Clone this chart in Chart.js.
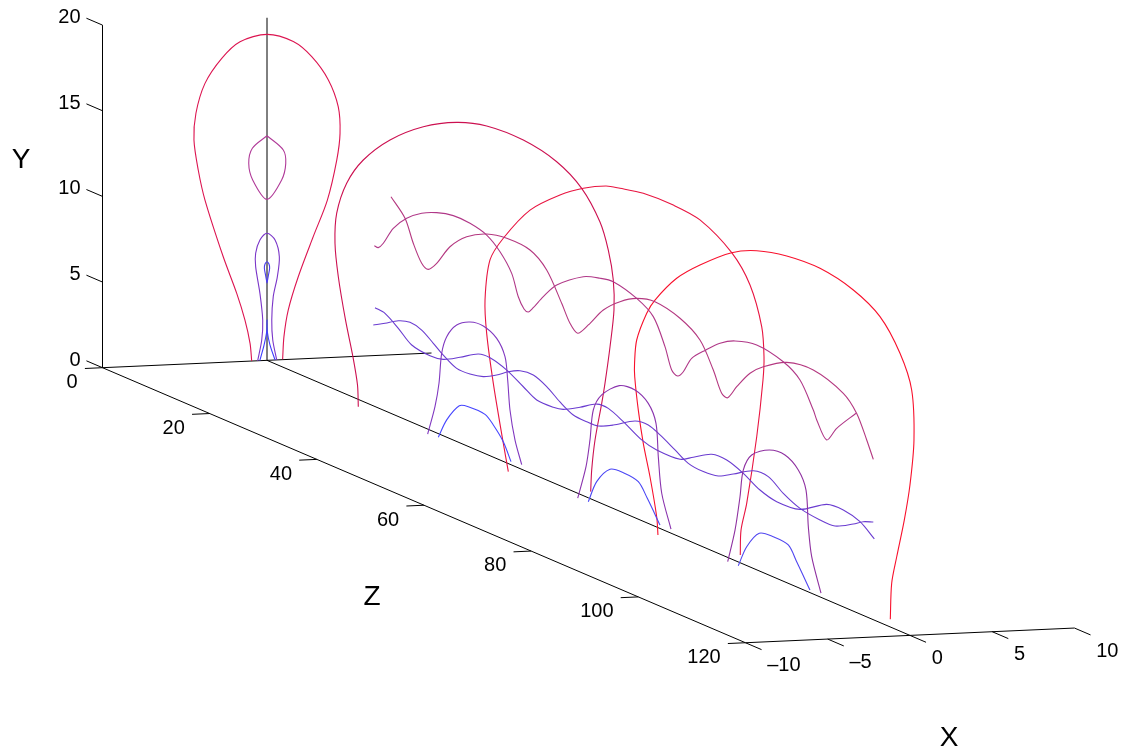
<!DOCTYPE html>
<html>
<head>
<meta charset="utf-8">
<style>
  html, body { margin: 0; padding: 0; background: #fff; }
  canvas { display: block; }
</style>
<script src="https://cdn.jsdelivr.net/npm/chart.js@4"></script>
</head>
<body>
<canvas id="fieldChart" width="1123" height="753"></canvas>
<script>
// axis ticks
const xTicks = [-10, -5, 0, 5, 10]
const yTicks = [0, 5, 10, 15, 20]
const zTicks = [0, 20, 40, 60, 80, 100, 120]

// contours in the Z = 0 plane, [X, Y]
const frontOuter = [[-0.93,0],[-1.03,1.04],[-1.34,2.41],[-1.84,3.99],[-2.66,6.16],[-3.77,9.52],[-4.18,11.29],[-4.44,13.05],[-4.32,14.61],[-3.77,16.33],[-2.75,17.75],[-1.64,18.67],[0,19.03],[1.6,18.54],[2.72,17.61],[3.73,16.21],[4.33,14.62],[4.44,13.06],[4.24,11.51],[3.67,9.2],[2.81,7.1],[1.9,4.8],[1.29,2.88],[1.03,1.34],[0.95,0.02]]
const frontLoop = [[0,13.11],[0.99,12.24],[1.14,11.45],[0.89,10.49],[0,9.4],[-0.87,10.57],[-1.11,11.55],[-0.89,12.42],[0,13.11]]
const frontInner = [[-0.57,0],[-0.32,1.2],[-0.26,2.37],[-0.43,3.93],[-0.69,5.5],[-0.69,6.28],[-0.43,7.04],[0,7.42],[0.49,7.01],[0.75,6.02],[0.63,4.86],[0.38,3.7],[0.29,2.34],[0.35,1.17],[0.59,0]]
const frontFork = [[-0.44,0],[-0.18,0.9],[-0.02,1.67],[0,2.36],[0.02,1.67],[0.18,0.9],[0.49,0]]
const frontTip = [[0,4.5],[-0.09,4.99],[-0.16,5.38],[-0.12,5.63],[0,5.76],[0.12,5.62],[0.16,5.37],[0.09,4.98],[0,4.5]]

// contours along the X = 0 plane, [Z, Y]
const arcA = [[17.04,-0.43],[16.89,0.82],[16.05,2.34],[14.65,4.32],[13.31,6.66],[12.69,8.53],[13.01,10.33],[14.87,12.33],[17.97,14.1],[22.96,15.94],[29.17,17.54],[35.4,18.63],[41,19.17],[47.84,19.26],[54.07,18.83],[58.73,17.9],[62.15,16.39],[63.7,14.96],[64.63,13.34],[64.76,11.6],[64.02,9.36],[63.08,7.1],[62.47,5.85],[61.22,3.54],[60.6,1.71],[60.41,0.42]]
const arcB = [[45.04,-0.47],[44.1,1.06],[42.24,4.31],[41,7.06],[40.69,8.97],[41.62,11.43],[44.1,13.03],[49.09,15.34],[54.68,16.97],[59.03,17.94],[63.27,18.64],[65.88,18.86],[70.23,19.15],[75.83,19.21],[80.81,19.01],[86.73,17.89],[90.15,16.46],[92.33,14.32],[92.76,12.62],[92.57,11.24],[91.4,7.77],[89.53,3.63],[88.47,1.93],[88.33,0.46]]
const arcC = [[72.97,-0.43],[72.73,0.6],[71.48,2.77],[70.23,4.55],[69.3,6.37],[68.63,8.23],[68.6,9.02],[69,10.42],[70.87,12.23],[72.41,13.21],[76.46,15.02],[80.81,16.38],[86.73,17.89],[91.4,18.63],[97,19.07],[103.21,19.18],[109.43,18.75],[114.41,17.86],[118.14,16.22],[120.32,14.37],[120.75,11.51],[120,8.78],[118.94,6.59],[117.53,4.26],[116.59,2.59],[116.33,0.45]]

const archA = [[29.99,-0.29],[31.35,1.49],[32.1,2.96],[32.6,4.77],[33.54,5.87],[35.4,6.8],[37.89,7.31],[40.37,7.41],[42.87,7.02],[44.42,6.16],[44.92,4.86],[45.35,3.17],[46.29,1.54],[47.54,0.27]]
const archB = [[57.99,-0.29],[59.54,1.76],[60.28,3.42],[60.9,5.25],[62.47,6.34],[65.75,7.32],[68.68,7.46],[71.16,7.01],[72.6,6.04],[73.03,4.15],[73.67,2.1],[75.4,0.23]]
const archC = [[85.98,-0.25],[87.35,1.78],[88.28,3.85],[88.89,5.49],[90.46,6.58],[93.75,7.31],[96.68,7.41],[99.16,6.87],[100.6,5.89],[101.03,3.81],[101.66,2.14],[103.4,0.24]]

const lowA = [[31.97,-0.21],[33.54,1.01],[35.89,2.15],[37.57,2.32],[40.69,2.29],[42.24,1.88],[44.1,1.15],[45.54,0.18]]
const lowB = [[59.97,-0.23],[61.53,1.15],[64.02,2.21],[66.5,2.34],[69.3,2.19],[70.98,1.44],[73.35,0.2]]
const lowC = [[87.96,-0.22],[89.53,1.1],[91.88,2.2],[94.49,2.35],[97.29,2.24],[98.86,1.47],[101.34,0.15]]

const waveUpperA = [[20.03,9.37],[20.77,9.36],[21.71,9.74],[23.57,10.86],[26.07,11.78],[28.87,12.45],[31.67,12.86],[34.77,13.1],[37.89,13.07],[41,12.8],[43.49,12.16],[45.67,11.19],[46.9,9.99],[47.97,9.42],[48.77,9.35],[49.65,9.7],[51.57,10.62],[54.07,11.63],[59.03,12.78],[62.15,13.11],[64.63,13.24],[69,12.85],[72.1,12.2],[74.28,10.74],[75.53,9.54],[76.65,9.34],[77.7,9.73],[79.26,10.72],[81.93,11.57],[84.55,12.31],[87.35,12.82],[91.4,13.13],[96.36,12.81],[99.48,12.16],[101.96,10.74],[102.6,10.25],[104.46,9.33],[106.33,10.26],[109.93,11.62]]
const waveUpperB = [[23.14,12.65],[25.76,11.74],[27.3,10.49],[28.87,9.53],[30.1,9.34],[31.67,9.9],[34.15,11.2],[37.27,12.2],[41,12.86],[44.74,13.11],[49.09,13.01],[52.2,12.26],[55,10.69],[56.55,9.73],[57.99,9.34],[59.97,10.09],[62.77,11.34],[65.88,12.24],[69,12.85],[72.41,13.11],[77.08,12.77],[80.81,12],[83.3,10.58],[84.86,9.43],[85.98,9.32],[87.66,10.19],[90.15,11.31],[92.63,12.02],[97,12.86],[101.96,13.08],[107.56,12.47],[110.06,11.63],[111.93,10.33],[113.16,9.36]]
const waveLowerA = [[19.84,4.72],[22.02,5.11],[24.51,5.59],[26.69,5.79],[28.87,5.63],[31.04,5.15],[32.9,4.71],[35.4,4.27],[37.89,4.27],[40.37,4.45],[42.87,4.88],[45.04,5.36],[47.22,5.71],[49.7,5.79],[52.2,5.45],[54.68,4.89],[57.17,4.46],[59.67,4.4],[61.83,4.44],[64.63,4.87],[68.68,5.65],[71.16,5.75],[73.35,5.46],[76.15,4.96],[78.63,4.51],[81.43,4.4],[84.23,4.52],[87.03,5.01],[90.76,5.7],[93.56,5.73],[96.36,5.13],[99.48,4.67],[103.21,4.49],[106.01,4.51],[109.43,5.09],[111.29,5.47],[113.16,5.7]]
const waveLowerB = [[20.16,5.77],[22.02,5.69],[24.51,5.15],[27.01,4.51],[30.42,4.34],[32.9,4.46],[36.02,5],[39.44,5.65],[41.62,5.72],[44.74,5.42],[47.84,4.86],[50.34,4.42],[53.43,4.41],[55.3,4.54],[58.42,5.08],[61.53,5.68],[63.7,5.72],[66.5,5.32],[69.93,4.71],[72.73,4.5],[77.08,4.54],[79.56,4.99],[83,5.62],[85.8,5.66],[88.89,5.3],[92.01,4.74],[95.13,4.48],[99.48,4.61],[104.46,5.57],[107.56,5.66],[110.68,5.39],[113.35,4.74]]

// oblique view of the box, onto the page plane
function project(x, y, z) {
  return {
    x: 267 + 16.45 * x + 5.358 * z,
    y: 360.35 - 0.735 * x + 2.292 * z - 17.13 * y
  }
}

function curve(points, color) {
  return { data: points, borderColor: color, borderWidth: 1.1, tension: 0.3, pointRadius: 0, showLine: true }
}
function front(rows, color) {
  return curve(rows.map(r => project(r[0], r[1], 0)), color)
}
function side(rows, color) {
  return curve(rows.map(r => project(0, r[1], r[0])), color)
}
function axisLine(a, b) {
  return { data: [project(a[0], a[1], a[2]), project(b[0], b[1], b[2])], borderColor: '#000', borderWidth: 1, tension: 0, pointRadius: 0, showLine: true }
}

const axisLines = [
  axisLine([-10, 0, 0], [-10, 20, 0]),
  axisLine([-10, 0, 0], [10, 0, 0]),
  axisLine([-10, 0, 120], [10, 0, 120]),
  axisLine([-10, 0, 0], [-10, 0, 120]),
  axisLine([0, 0, 0], [0, 0, 120]),
  axisLine([0, 0, 0], [0, 20, 0])
]
yTicks.forEach(v => axisLines.push(axisLine([-10, v, 0], [-10, v, -3])))
xTicks.forEach(v => axisLines.push(axisLine([v, 0, 120], [v, 0, 123])))
zTicks.forEach(v => axisLines.push(axisLine([-10, 0, v], [-11.07, 0, v])))

const datasets = [
  front(frontFork, '#3c3cff'),
  front(frontTip, '#4a3cf0'),
  front(frontInner, '#7a35c8'),
  front(frontLoop, '#b03a98'),
  front(frontOuter, '#dc1450'),
  side(lowA, '#4646ff'),
  side(lowB, '#4a46f5'),
  side(lowC, '#5046f0'),
  side(archA, '#8038c0'),
  side(archB, '#8a34ae'),
  side(archC, '#8e30a0'),
  side(waveLowerA, '#6a3cd0'),
  side(waveLowerB, '#6a3cd0'),
  side(waveUpperA, '#b03888'),
  side(waveUpperB, '#b43880'),
  side(arcC, '#f8102c'),
  side(arcB, '#e81440'),
  side(arcA, '#cc1050')
].concat(axisLines)

const boxLabels = {
  id: 'boxLabels',
  afterDraw(chart) {
    const ctx = chart.ctx
    const sx = chart.scales.x, sy = chart.scales.y
    const put = (text, p, dx, dy, align, size) => {
      ctx.font = size + 'px "Liberation Sans", Arial, sans-serif'
      ctx.textAlign = align
      ctx.textBaseline = 'middle'
      ctx.fillStyle = '#000'
      ctx.fillText(text, sx.getPixelForValue(p.x) + dx, sy.getPixelForValue(p.y) + dy)
    }
    ctx.save()
    yTicks.forEach(v => put(String(v), project(-10, v, 0), -22, -7.5, 'right', 20))
    zTicks.forEach(v => put(String(v), project(-10, 0, v), -24.8, 14.8, 'right', 20))
    xTicks.forEach(v => put(String(v).replace('-', '\u2013'), project(v, 0, 120), 21.7, 23, 'left', 20))
    put('Y', { x: 21, y: 160 }, 0, 0, 'center', 28)
    put('Z', { x: 372, y: 597 }, 0, 0, 'center', 28)
    put('X', { x: 949, y: 738 }, 0, 0, 'center', 28)
    ctx.restore()
  }
}

new Chart(document.getElementById('fieldChart'), {
  type: 'scatter',
  data: { datasets: datasets },
  options: {
    responsive: false,
    animation: false,
    layout: { padding: 0 },
    plugins: { legend: { display: false }, tooltip: { enabled: false } },
    scales: {
      x: { type: 'linear', min: 0, max: 1123, display: false },
      y: { type: 'linear', min: 0, max: 753, reverse: true, display: false }
    }
  },
  plugins: [boxLabels]
})
</script>
</body>
</html>
